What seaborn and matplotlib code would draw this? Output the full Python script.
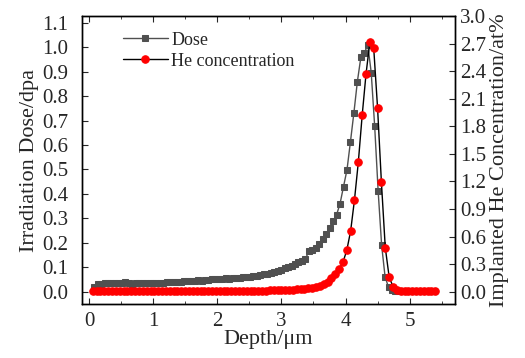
import seaborn as sns
import matplotlib.pyplot as plt
from matplotlib.ticker import MultipleLocator

# SRIM style depth profiles: displacement damage (dose) and implanted He

dose_depth = [0.081, 0.135, 0.189, 0.243, 0.297, 0.351, 0.405, 0.459, 0.513, 0.567,
              0.621, 0.675, 0.729, 0.783, 0.837, 0.891, 0.945, 0.999, 1.053, 1.107,
              1.161, 1.215, 1.269, 1.323, 1.377, 1.431, 1.485, 1.539, 1.593, 1.647,
              1.701, 1.755, 1.809, 1.863, 1.917, 1.971, 2.025, 2.079, 2.133, 2.187,
              2.241, 2.295, 2.349, 2.403, 2.457, 2.511, 2.565, 2.619, 2.673, 2.727,
              2.781, 2.835, 2.889, 2.943, 2.997, 3.051, 3.105, 3.159, 3.213, 3.267,
              3.321, 3.375, 3.429, 3.483, 3.537, 3.591, 3.645, 3.699, 3.753, 3.807,
              3.861, 3.915, 3.969, 4.023, 4.077, 4.131, 4.185, 4.239, 4.293, 4.347,
              4.401, 4.455, 4.509, 4.563, 4.617, 4.671, 4.725, 4.779, 4.833, 4.887,
              4.941, 4.995, 5.049, 5.103, 5.157, 5.211, 5.265, 5.319, 5.373]
dose = [0.020, 0.032, 0.033, 0.034, 0.035, 0.034, 0.035, 0.034, 0.037, 0.040,
        0.036, 0.033, 0.034, 0.035, 0.034, 0.036, 0.035, 0.036, 0.036, 0.037,
        0.036, 0.038, 0.038, 0.039, 0.040, 0.041, 0.042, 0.042, 0.043, 0.044,
        0.046, 0.045, 0.048, 0.047, 0.050, 0.051, 0.052, 0.053, 0.056, 0.054,
        0.057, 0.056, 0.058, 0.061, 0.060, 0.062, 0.065, 0.064, 0.068, 0.072,
        0.074, 0.076, 0.080, 0.084, 0.090, 0.096, 0.100, 0.107, 0.114, 0.120,
        0.126, 0.134, 0.166, 0.171, 0.180, 0.196, 0.216, 0.238, 0.260, 0.288,
        0.315, 0.360, 0.430, 0.498, 0.613, 0.732, 0.859, 0.958, 0.975, 1.010,
        0.896, 0.676, 0.412, 0.191, 0.061, 0.018, 0.005, 0.004, 0.004, 0.003,
        0.003, 0.003, 0.003, 0.003, 0.003, 0.003, 0.003, 0.003, 0.003]

he_depth = [0.06, 0.12, 0.18, 0.24, 0.30, 0.36, 0.42, 0.48, 0.54, 0.60,
            0.66, 0.72, 0.78, 0.84, 0.90, 0.96, 1.02, 1.08, 1.14, 1.20,
            1.26, 1.32, 1.38, 1.44, 1.50, 1.56, 1.62, 1.68, 1.74, 1.80,
            1.86, 1.92, 1.98, 2.04, 2.10, 2.16, 2.22, 2.28, 2.34, 2.40,
            2.46, 2.52, 2.58, 2.64, 2.70, 2.76, 2.82, 2.88, 2.94, 3.00,
            3.06, 3.12, 3.18, 3.24, 3.30, 3.36, 3.42, 3.48, 3.54, 3.60,
            3.66, 3.72, 3.78, 3.84, 3.90, 3.96, 4.02, 4.08, 4.14, 4.20,
            4.26, 4.32, 4.38, 4.44, 4.50, 4.56, 4.62, 4.68, 4.74, 4.80,
            4.86, 4.92, 4.98, 5.04, 5.10, 5.16, 5.22, 5.28, 5.34, 5.40]
he_conc = [0.004, 0.005, 0.005, 0.005, 0.005, 0.006, 0.006, 0.006, 0.006, 0.006,
           0.006, 0.006, 0.007, 0.007, 0.007, 0.007, 0.007, 0.007, 0.007, 0.008,
           0.008, 0.008, 0.008, 0.008, 0.008, 0.008, 0.009, 0.009, 0.009, 0.009,
           0.009, 0.009, 0.009, 0.010, 0.010, 0.010, 0.010, 0.010, 0.011, 0.011,
           0.011, 0.011, 0.011, 0.012, 0.012, 0.012, 0.013, 0.013, 0.014, 0.015,
           0.017, 0.019, 0.021, 0.024, 0.027, 0.031, 0.036, 0.042, 0.050, 0.062,
           0.080, 0.109, 0.146, 0.193, 0.244, 0.320, 0.450, 0.660, 1.000, 1.410,
           1.920, 2.370, 2.720, 2.650, 2.000, 1.190, 0.480, 0.163, 0.054, 0.015,
           0.012, 0.011, 0.011, 0.010, 0.010, 0.010, 0.009, 0.009, 0.009, 0.009]

sns.set_style("ticks")
plt.rcParams['font.family'] = ['Liberation Serif', 'DejaVu Serif']

fig, ax = plt.subplots(figsize=(5.25, 3.58), dpi=100)
fig.subplots_adjust(left=0.156, right=0.867, top=0.955, bottom=0.151)
ax2 = ax.twinx()

sns.lineplot(x=dose_depth, y=dose, ax=ax, color='#505050', marker='s',
             markersize=4.6, markeredgecolor='#505050', markerfacecolor='#505050',
             linewidth=1.0, label='Dose')
sns.lineplot(x=he_depth, y=he_conc, ax=ax2, color='black', marker='o',
             markersize=5.4, markeredgecolor='red', markerfacecolor='red',
             linewidth=1.0, label='He concentration')

ax.set_xlim(-0.11, 5.71)
ax.set_ylim(-0.05, 1.127)
ax2.set_ylim(-0.134, 3.0)

ax.xaxis.set_major_locator(MultipleLocator(1))
ax.xaxis.set_minor_locator(MultipleLocator(0.5))
ax.set_yticks([i / 10 for i in range(12)])
ax2.set_yticks([i * 0.3 for i in range(11)])
ax.set_yticklabels([f"{i / 10:.1f}" for i in range(12)])
ax2.set_yticklabels([f"{i * 0.3:.1f}" for i in range(11)])

ax.tick_params(axis='x', which='both', direction='in', top=True, labelsize=15, pad=6)
ax.tick_params(axis='x', which='major', length=4)
ax.tick_params(axis='x', which='minor', length=2.5)
ax.tick_params(axis='y', which='both', direction='in', length=4, labelsize=15, pad=10)
ax2.tick_params(axis='y', which='both', direction='in', length=4, labelsize=15, pad=3.5)

for a in (ax, ax2):
    for s in a.spines.values():
        s.set_linewidth(1.0)
        s.set_color('black')

ax.set_xlabel('Depth/μm', fontsize=16, labelpad=-1)
ax.set_ylabel('Irradiation Dose/dpa', fontsize=16, labelpad=2)
ax2.set_ylabel('Implanted He Concentration/at%', fontsize=16, labelpad=3)

h1, l1 = ax.get_legend_handles_labels()
h2, l2 = ax2.get_legend_handles_labels()
ax2.get_legend().remove()
ax.get_legend().remove()
ax.legend(h1 + h2, l1 + l2, loc='upper left', bbox_to_anchor=(0.075, 0.99),
          frameon=False, fontsize=13, handlelength=2.5, handletextpad=0.2,
          labelspacing=0.22, borderpad=0.2)

plt.savefig('out.png', dpi=100)
